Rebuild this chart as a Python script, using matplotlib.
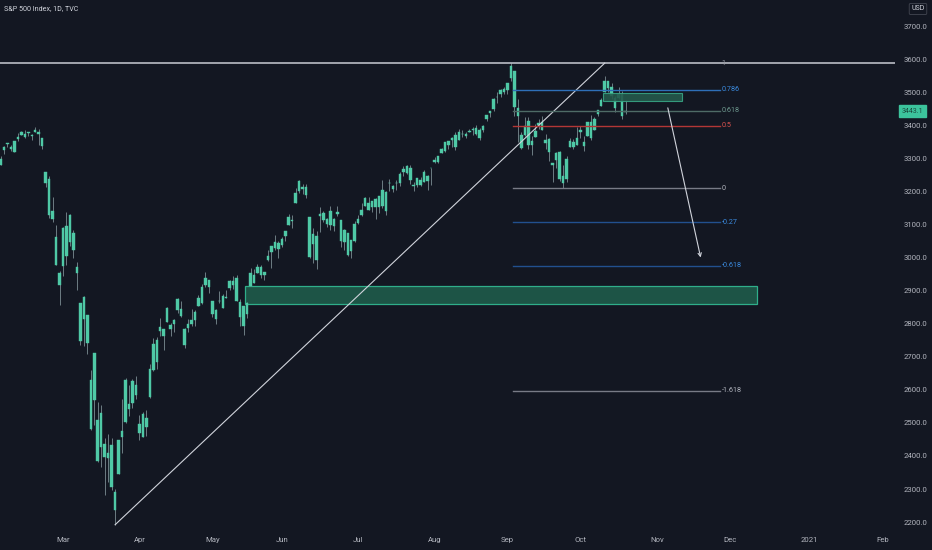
import matplotlib
matplotlib.use("Agg")
import matplotlib.pyplot as plt
import pandas as pd
import numpy as np
from matplotlib.patches import Rectangle

plt.rcParams['font.family'] = ['Roboto', 'DejaVu Sans']

# ---------------- data ----------------
dates = ["2020-02-03","2020-02-04","2020-02-05","2020-02-06","2020-02-07","2020-02-10","2020-02-11","2020-02-12",
"2020-02-13","2020-02-14","2020-02-18","2020-02-19","2020-02-20","2020-02-21","2020-02-24","2020-02-25",
"2020-02-26","2020-02-27","2020-02-28","2020-03-02","2020-03-03","2020-03-04","2020-03-05","2020-03-06",
"2020-03-09","2020-03-10","2020-03-11","2020-03-12","2020-03-13","2020-03-16","2020-03-17","2020-03-18",
"2020-03-19","2020-03-20","2020-03-23","2020-03-24","2020-03-25","2020-03-26","2020-03-27","2020-03-30",
"2020-03-31","2020-04-01","2020-04-02","2020-04-03","2020-04-06","2020-04-07","2020-04-08","2020-04-09",
"2020-04-13","2020-04-14","2020-04-15","2020-04-16","2020-04-17","2020-04-20","2020-04-21","2020-04-22",
"2020-04-23","2020-04-24","2020-04-27","2020-04-28","2020-04-29","2020-04-30","2020-05-01","2020-05-04",
"2020-05-05","2020-05-06","2020-05-07","2020-05-08","2020-05-11","2020-05-12","2020-05-13","2020-05-14",
"2020-05-15","2020-05-18","2020-05-19","2020-05-20","2020-05-21","2020-05-22","2020-05-26","2020-05-27",
"2020-05-28","2020-05-29","2020-06-01","2020-06-02","2020-06-03","2020-06-04","2020-06-05","2020-06-08",
"2020-06-09","2020-06-10","2020-06-11","2020-06-12","2020-06-15","2020-06-16","2020-06-17","2020-06-18",
"2020-06-19","2020-06-22","2020-06-23","2020-06-24","2020-06-25","2020-06-26","2020-06-29","2020-06-30",
"2020-07-01","2020-07-02","2020-07-06","2020-07-07","2020-07-08","2020-07-09","2020-07-10","2020-07-13",
"2020-07-14","2020-07-15","2020-07-16","2020-07-17","2020-07-20","2020-07-21","2020-07-22","2020-07-23",
"2020-07-24","2020-07-27","2020-07-28","2020-07-29","2020-07-30","2020-07-31","2020-08-03","2020-08-04",
"2020-08-05","2020-08-06","2020-08-07","2020-08-10","2020-08-11","2020-08-12","2020-08-13","2020-08-14",
"2020-08-17","2020-08-18","2020-08-19","2020-08-20","2020-08-21","2020-08-24","2020-08-25","2020-08-26",
"2020-08-27","2020-08-28","2020-08-31","2020-09-01","2020-09-02","2020-09-03","2020-09-04","2020-09-08",
"2020-09-09","2020-09-10","2020-09-11","2020-09-14","2020-09-15","2020-09-16","2020-09-17","2020-09-18",
"2020-09-21","2020-09-22","2020-09-23","2020-09-24","2020-09-25","2020-09-28","2020-09-29","2020-09-30",
"2020-10-01","2020-10-02","2020-10-05","2020-10-06","2020-10-07","2020-10-08","2020-10-09","2020-10-12",
"2020-10-13","2020-10-14","2020-10-15","2020-10-16","2020-10-19","2020-10-20"]

opens = [3235.7,3280.6,3324.9,3344.9,3335.5,3318.3,3365.9,3370.5,3365.9,3378.1,3369.0,3380.4,3380.5,3360.5,3257.6,3238.9,
3139.9,3062.5,2916.9,2974.3,3096.5,3045.8,3075.7,2954.2,2863.9,2813.5,2825.6,2630.9,2570.0,2508.6,2425.7,2436.5,
2393.5,2431.9,2290.7,2344.4,2457.8,2501.3,2555.9,2559.0,2614.7,2498.1,2458.5,2514.9,2578.3,2738.7,2685.0,2777.0,
2782.5,2805.1,2795.6,2812.6,2842.4,2845.6,2784.8,2787.9,2810.4,2812.6,2854.7,2910.0,2918.5,2930.9,2869.1,2815.0,
2868.9,2883.1,2878.3,2908.8,2915.5,2939.5,2865.9,2794.5,2830.0,2913.9,2948.6,2953.6,2970.0,2948.0,3004.1,3015.7,
3046.6,3025.2,3038.8,3064.8,3098.9,3111.6,3163.8,3199.9,3213.3,3213.4,3123.5,3071.0,2993.8,3131.0,3136.1,3101.6,
3140.3,3094.4,3138.7,3114.4,3046.6,3073.2,3018.6,3050.2,3105.9,3143.6,3155.3,3166.4,3153.1,3176.2,3152.5,3205.1,
3141.1,3226.0,3208.4,3224.2,3224.3,3268.5,3254.9,3271.6,3218.6,3219.8,3234.3,3227.2,3231.8,3270.5,3288.3,3289.9,
3317.4,3323.2,3340.1,3356.0,3370.3,3355.5,3373.0,3368.7,3380.9,3387.0,3392.5,3360.5,3386.0,3418.1,3436.0,3450.0,
3485.1,3494.7,3509.7,3507.4,3543.8,3564.7,3453.6,3371.9,3369.8,3412.6,3352.7,3363.6,3407.7,3411.2,3346.9,3357.4,
3285.6,3295.8,3320.1,3226.1,3236.7,3333.9,3350.9,3341.2,3385.9,3338.9,3367.3,3408.7,3384.6,3434.3,3459.7,3500.0,
3534.0,3515.5,3453.7,3493.5,3493.7,3439.4]

highs = [3268.4,3306.9,3337.6,3348.0,3341.4,3352.3,3375.6,3381.5,3385.1,3380.7,3375.0,3393.5,3389.2,3360.8,3259.8,3247.0,
3182.5,3097.1,2959.7,3091.0,3136.7,3131.0,3083.0,2985.9,2863.9,2882.6,2825.6,2661.0,2711.3,2563.0,2553.9,2453.6,
2467.0,2453.0,2300.7,2449.7,2571.4,2637.0,2615.9,2631.8,2641.4,2522.8,2533.2,2538.2,2676.9,2756.9,2760.8,2818.6,
2782.5,2851.9,2801.9,2815.2,2879.2,2869.0,2785.5,2815.1,2844.9,2842.7,2887.7,2921.2,2954.9,2930.9,2869.1,2844.2,
2898.2,2891.1,2901.9,2932.2,2944.3,2945.8,2874.1,2852.8,2865.0,2968.1,2964.2,2980.3,2978.5,2956.8,3021.7,3036.3,
3068.7,3049.2,3062.2,3081.1,3130.9,3128.9,3211.7,3233.1,3222.7,3223.3,3123.5,3088.4,3079.8,3153.5,3141.2,3120.0,
3155.5,3120.9,3154.9,3115.0,3086.3,3073.7,3053.9,3111.5,3128.4,3165.8,3182.6,3184.2,3171.8,3179.8,3186.8,3235.3,
3201.0,3238.3,3220.4,3233.5,3258.6,3277.3,3279.3,3280.0,3227.3,3241.4,3243.7,3264.7,3250.9,3272.2,3302.7,3306.8,
3330.8,3351.0,3352.5,3363.3,3381.0,3387.9,3387.2,3378.5,3387.6,3395.1,3399.5,3390.8,3400.0,3432.1,3444.2,3481.1,
3501.4,3509.2,3514.8,3528.0,3588.1,3564.9,3479.2,3380.0,3424.8,3425.6,3369.0,3402.9,3419.5,3428.9,3375.2,3362.3,
3285.6,3320.3,3323.4,3278.7,3306.9,3360.7,3357.9,3393.6,3397.2,3369.1,3409.6,3431.6,3426.3,3447.3,3482.3,3549.9,
3534.0,3527.9,3489.1,3515.8,3502.4,3476.9]

lows = [3235.7,3280.6,3313.8,3334.4,3322.1,3317.8,3352.7,3369.7,3360.5,3366.2,3355.6,3378.8,3341.0,3328.5,3214.6,3118.8,
3109.0,2977.4,2855.8,2945.2,2976.6,3034.4,2999.8,2901.5,2734.4,2734.0,2707.2,2478.9,2492.4,2380.9,2367.0,2280.5,
2319.8,2295.6,2191.9,2344.4,2407.5,2500.7,2520.0,2545.3,2571.2,2447.5,2455.8,2460.0,2574.6,2657.7,2663.3,2762.4,
2721.2,2805.1,2761.5,2776.0,2830.9,2820.4,2727.1,2776.0,2794.3,2791.8,2852.9,2860.7,2912.2,2892.5,2821.6,2797.9,
2863.6,2847.7,2876.5,2902.9,2903.4,2869.6,2793.2,2766.6,2816.8,2913.9,2922.4,2953.6,2938.6,2933.6,2988.2,2969.8,
3023.4,2998.6,3031.5,3051.6,3098.9,3090.4,3163.8,3196.0,3193.1,3181.5,2999.5,2984.5,2965.7,3076.1,3108.0,3093.5,
3083.1,3079.4,3127.1,3032.1,3024.0,3004.6,2999.7,3047.8,3101.2,3124.5,3155.3,3142.9,3136.5,3115.7,3136.2,3149.4,
3127.7,3200.8,3198.6,3205.7,3215.2,3247.8,3253.1,3222.7,3200.0,3214.3,3216.2,3227.2,3204.1,3220.3,3284.5,3286.4,
3317.4,3318.1,3328.7,3335.4,3326.4,3355.5,3363.4,3361.6,3379.2,3370.2,3369.7,3354.7,3379.3,3413.1,3425.8,3444.2,
3468.4,3484.3,3493.3,3494.6,3535.2,3427.4,3349.6,3329.3,3366.8,3329.3,3310.5,3363.6,3389.3,3384.5,3328.8,3292.4,
3229.1,3271.0,3232.6,3209.5,3228.4,3332.9,3327.5,3340.5,3361.4,3323.7,3367.3,3354.5,3384.6,3428.2,3458.1,3499.6,
3500.9,3480.6,3440.9,3480.5,3419.9,3435.7]

closes = [3248.9,3297.6,3334.7,3345.8,3327.7,3352.1,3357.8,3379.5,3373.9,3380.2,3370.3,3386.2,3373.2,3337.8,3225.9,3128.2,
3116.4,2978.8,2954.2,3090.2,3003.4,3130.1,3023.9,2972.4,2746.6,2882.2,2741.4,2480.6,2711.0,2386.1,2529.2,2398.1,
2409.4,2304.9,2237.4,2447.3,2475.6,2630.1,2541.5,2626.7,2584.6,2470.5,2526.9,2488.7,2663.7,2659.4,2750.0,2789.8,
2761.6,2846.1,2783.4,2799.6,2874.6,2823.2,2736.6,2799.3,2797.8,2836.7,2878.5,2863.4,2939.5,2912.4,2830.7,2842.7,
2868.4,2848.4,2881.2,2929.8,2930.3,2870.1,2820.0,2852.5,2863.7,2953.9,2922.9,2971.6,2948.5,2955.5,2991.8,3036.1,
3029.7,3044.3,3055.7,3080.8,3122.9,3112.4,3193.9,3232.4,3207.2,3190.1,3002.1,3041.3,3066.6,3124.7,3113.5,3115.3,
3097.7,3117.9,3131.3,3050.3,3083.8,3009.1,3053.2,3100.3,3115.9,3130.0,3179.7,3145.3,3169.9,3152.1,3185.0,3155.2,
3197.5,3226.6,3215.6,3224.7,3251.8,3257.3,3276.0,3235.7,3215.6,3239.4,3218.4,3258.4,3246.2,3271.1,3294.6,3306.5,
3327.8,3349.2,3351.3,3360.5,3333.7,3380.4,3373.4,3372.9,3382.0,3389.8,3374.9,3385.5,3397.2,3431.3,3443.6,3478.7,
3484.6,3508.0,3500.3,3526.7,3580.8,3455.1,3427.0,3331.8,3399.0,3339.2,3341.0,3383.5,3401.2,3385.5,3357.0,3319.5,
3281.1,3315.6,3236.9,3246.6,3298.5,3351.6,3335.5,3363.0,3380.8,3348.4,3408.6,3361.0,3419.4,3446.8,3477.1,3534.2,
3511.9,3488.7,3483.3,3483.8,3426.9,3443.1]

month_labels = ["Mar", "Apr", "May", "Jun", "Jul", "Aug", "Sep", "Oct", "Nov", "Dec", "2021", "Feb"]
month_starts = ["2020-03-01", "2020-04-01", "2020-05-01", "2020-06-01", "2020-07-01", "2020-08-01",
                "2020-09-01", "2020-10-01", "2020-11-01", "2020-12-01", "2021-01-01", "2021-02-01"]
price_ticks = [2200, 2300, 2400, 2500, 2600, 2700, 2800, 2900, 3000, 3100, 3200, 3300, 3400, 3500, 3600, 3700]

# Fibonacci retracement: swing high / swing low
fib_high = 3588.1
fib_low = 3209.5
fib_levels = [1, 0.786, 0.618, 0.5, 0, -0.27, -0.618, -1.618]
fib_labels = ["1", "0.786", "0.618", "0.5", "0", "-0.27", "-0.618", "-1.618"]
last_price = 3443.1

# ---------------- bar index scale (trading-day based, like TradingView) ----------------
dts = pd.to_datetime(dates)
base = list(dts).index(pd.Timestamp("2020-03-02"))
idx = np.arange(len(dts)) - base
future = pd.bdate_range("2020-10-21", "2021-03-31")
all_days = list(dts) + list(future)
all_idx = list(idx) + list(range(idx[-1] + 1, idx[-1] + 1 + len(future)))

def bar_of(date_str):
    d = pd.Timestamp(date_str)
    for day, i in zip(all_days, all_idx):
        if day >= d:
            return i
    return all_idx[-1]

month_pos = [bar_of(m) for m in month_starts]

# ---------------- figure ----------------
BG = "#131722"
TXT = "#b2b5be"
TEAL = "#4fc9a6"
fig = plt.figure(figsize=(9.32, 5.5), dpi=100, facecolor=BG)
ax = fig.add_axes([0, 20 / 550, 895 / 932, 530 / 550])
ax.set_facecolor(BG)
for s in ax.spines.values():
    s.set_visible(False)

ax.set_xlim(-18.15, 239.6)
ax.set_ylim(2176, 3779)

o = np.array(opens); h = np.array(highs); l = np.array(lows); c = np.array(closes)
ax.vlines(idx, l, h, color="#6d7d84", lw=0.7, zorder=2)
body_lo = np.minimum(o, c)
body_h = np.maximum(np.abs(c - o), 0.8)
ax.bar(idx, body_h, bottom=body_lo, width=0.72, color=TEAL, edgecolor=TEAL, lw=0.3, zorder=3)

# horizontal resistance line
ax.axhline(fib_high, color="#c9ccd4", lw=1.1, zorder=4)

# diagonal trend line
i_low = bar_of("2020-03-23")
i_high = bar_of("2020-09-02")
ax.plot([i_low, i_high + 27], [2191.9, fib_high], color="#d1d4dc", lw=0.8, zorder=4)

# demand zone
ax.add_patch(Rectangle((52.4, 2861), 147.5, 51.5, facecolor="#1d5446", edgecolor="#2fae8a", lw=0.9, zorder=1))
# small supply zone
ax.add_patch(Rectangle((155.5, 3473), 22.8, 23.5, facecolor="#24594c", edgecolor="#38a585", lw=0.8, alpha=0.9, zorder=5))

# fibonacci levels
fib_line_colors = ["#c9ccd4", "#2e6fb8", "#4e6b66", "#b33636", "#787b86", "#22508f", "#22508f", "#787b86"]
fib_text_colors = ["#9598a1", "#3b8be0", "#6f9a90", "#d9534f", "#b2b5be", "#3b8be0", "#3b8be0", "#b2b5be"]
x0, x1 = 129.6, 189.2
rng = fib_high - fib_low
for lev, lab, lc, tc in zip(fib_levels, fib_labels, fib_line_colors, fib_text_colors):
    y = fib_low + lev * rng
    if lev != 1:
        ax.plot([x0, x1], [y, y], color=lc, lw=1.0, zorder=4)
    ax.text(x1 + 0.4, y, lab, color=tc, fontsize=5.2, va="center", ha="left", zorder=6)

# arrow
ax.annotate("", xy=(183.8, 2992), xytext=(174.0, 3461),
            arrowprops=dict(arrowstyle="->", color="#d1d4dc", lw=0.8, mutation_scale=6), zorder=6)

# axes ticks
ax.yaxis.tick_right()
ax.set_yticks(price_ticks)
ax.set_yticklabels([f"{p:.1f}" for p in price_ticks])
ax.set_xticks(month_pos)
ax.set_xticklabels(month_labels)
ax.tick_params(axis="both", length=0, colors=TXT, labelsize=5.6)
ax.tick_params(axis="y", pad=6)
ax.tick_params(axis="x", pad=5)

# title and badges
fig.text(4 / 932, 1 - 9 / 550, "S&P 500 Index, 1D, TVC", color="#d1d4dc", fontsize=5.1, va="center", ha="left")
fig.text(918 / 932, 1 - 9 / 550, "USD", color="#d1d4dc", fontsize=5, va="center", ha="center",
         bbox=dict(boxstyle="round,pad=0.3,rounding_size=0.2", facecolor=BG, edgecolor="#434651", lw=0.6))
ax.annotate(f"{last_price:.1f}", xy=(1.0, last_price), xycoords=("axes fraction", "data"),
            xytext=(912.5 / 932, 0), textcoords=("figure fraction", "offset points"),
            color="#1b4a3e", fontsize=5, va="center", ha="center", annotation_clip=False,
            bbox=dict(boxstyle="square,pad=0.35", facecolor="#3cc39c", edgecolor="#3cc39c"))

fig.savefig("out.png", dpi=100, facecolor=BG)
